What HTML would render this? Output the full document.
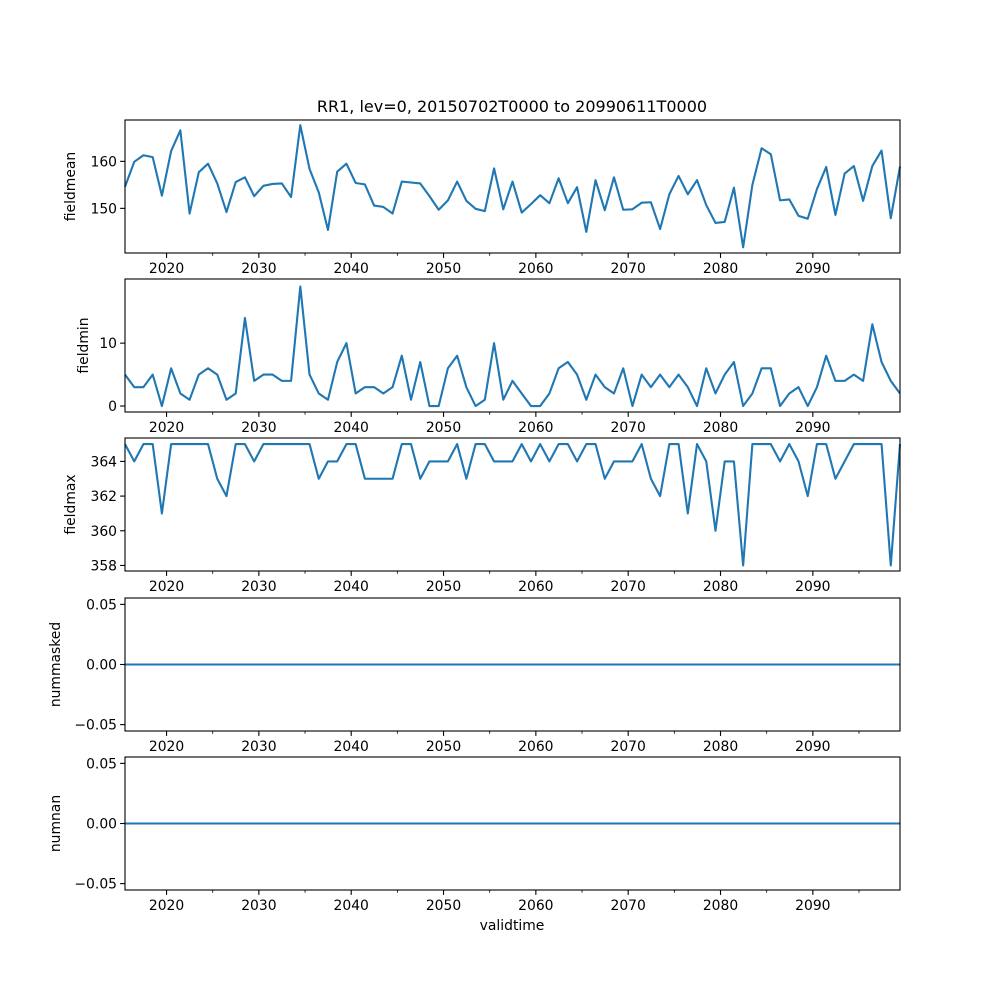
<!DOCTYPE html>
<html><head><meta charset="utf-8"><style>
html,body{margin:0;padding:0;background:#fff}
svg{display:block;font-family:"DejaVu Sans","Liberation Sans",sans-serif}
</style></head><body>
<svg id="fig" width="1000" height="1000" viewBox="0 0 1000 1000" xmlns="http://www.w3.org/2000/svg">
<text x="512" y="112" text-anchor="middle" font-size="16">RR1, lev=0, 20150702T0000 to 20990611T0000</text>
<text x="512" y="930" text-anchor="middle" font-size="13.9">validtime</text>
</svg>
<script>
const fieldmean=[154.6,159.9,161.3,160.9,152.7,162.2,166.6,148.9,157.7,159.5,155.3,149.2,155.6,156.6,152.6,154.8,155.2,155.3,152.4,167.7,158.4,153.4,145.4,157.8,159.5,155.4,155.1,150.6,150.3,148.9,155.7,155.5,155.3,152.6,149.7,151.7,155.7,151.6,149.9,149.4,158.5,149.8,155.7,149.1,150.9,152.8,151.1,156.4,151.1,154.5,145.0,156.0,149.6,156.6,149.7,149.8,151.2,151.3,145.6,153.0,156.9,153.0,156.0,150.7,146.9,147.1,154.4,141.7,155.0,162.8,161.5,151.7,151.9,148.4,147.8,154.1,158.8,148.6,157.4,159.0,151.6,159.0,162.3,147.9,158.9];
const fieldmin=[5,3,3,5,0,6,2,1,5,6,5,1,2,14,4,5,5,4,4,19,5,2,1,7,10,2,3,3,2,3,8,1,7,0,0,6,8,3,0,1,10,1,4,2,0,0,2,6,7,5,1,5,3,2,6,0,5,3,5,3,5,3,0,6,2,5,7,0,2,6,6,0,2,3,0,3,8,4,4,5,4,13,7,4,2];
const fieldmax=[365,364,365,365,361,365,365,365,365,365,363,362,365,365,364,365,365,365,365,365,365,363,364,364,365,365,363,363,363,363,365,365,363,364,364,364,365,363,365,365,364,364,364,365,364,365,364,365,365,364,365,365,363,364,364,364,365,363,362,365,365,361,365,364,360,364,364,358,365,365,365,364,365,364,362,365,365,363,364,365,365,365,365,358,365];
const nummasked=fieldmax.map(()=>0);
const numnan=fieldmax.map(()=>0);
const xTickLabels=[2020,2030,2040,2050,2060,2070,2080,2090];
const xMinorTicks=[2025,2035,2045,2055,2065,2075,2085,2095];
const startYear=2015.5, endYear=2099.44;

const panels=[
 {name:'fieldmean',data:fieldmean,top:120,bot:253,ymin:140.5,ymax:168.8,ticks:[150,160],fmt:v=>String(v),lx:75},
 {name:'fieldmin',data:fieldmin,top:279,bot:412,ymin:-0.95,ymax:20.2,ticks:[0,10],fmt:v=>String(v),lx:88},
 {name:'fieldmax',data:fieldmax,top:438,bot:571,ymin:357.68,ymax:365.35,ticks:[358,360,362,364],fmt:v=>String(v),lx:75},
 {name:'nummasked',data:nummasked,top:598,bot:731,ymin:-0.0553,ymax:0.0553,ticks:[-0.05,0,0.05],fmt:v=>v.toFixed(2).replace('-','\u2212'),lx:60},
 {name:'numnan',data:numnan,top:757,bot:890,ymin:-0.0553,ymax:0.0553,ticks:[-0.05,0,0.05],fmt:v=>v.toFixed(2).replace('-','\u2212'),lx:60}
];
const L=125,R=900;
const svg=document.getElementById('fig');
const NS='http://www.w3.org/2000/svg';
function mk(tag,attrs){const e=document.createElementNS(NS,tag);for(const k in attrs)e.setAttribute(k,attrs[k]);svg.appendChild(e);return e;}
const yearX=y=>L+(y-startYear)/(endYear-startYear)*(R-L);
panels.forEach(p=>{
  const ys=v=>p.bot-(v-p.ymin)/(p.ymax-p.ymin)*(p.bot-p.top);
  const n=p.data.length;
  const xi=i=>L+i*(R-L)/(n-1);
  const pts=p.data.map((v,i)=>xi(i).toFixed(2)+','+ys(v).toFixed(2)).join(' ');
  const line=mk('polyline',{points:pts,fill:'none',stroke:'#1f77b4','stroke-width':2.1,'stroke-linejoin':'round'});
  
  
  const frame=mk('rect',{x:L,y:p.top,width:R-L,height:p.bot-p.top,fill:'none',stroke:'#000','stroke-width':1.1});
  
  
  p.ticks.forEach(t=>{
    const y=ys(t);
    const tk=mk('line',{x1:L-4.9,x2:L,y1:y,y2:y,stroke:'#000','stroke-width':1.1});
    
    
    const tl=mk('text',{x:L-8,y:y+5,'text-anchor':'end','font-size':13.9});
    tl.textContent=p.fmt(t);
    
    
  });
  xTickLabels.forEach(yr=>{
    const x=yearX(yr);
    const tk=mk('line',{x1:x,x2:x,y1:p.bot,y2:p.bot+4.9,stroke:'#000','stroke-width':1.1});
    
    
    const tl=mk('text',{x:x,y:p.bot+20,'text-anchor':'middle','font-size':13.9});
    tl.textContent=String(yr);
    
    
  });
  xMinorTicks.forEach(yr=>{
    const x=yearX(yr);
    const tk=mk('line',{x1:x,x2:x,y1:p.bot,y2:p.bot+2.8,stroke:'#000','stroke-width':0.8});
    
    
  });
  const cy=(p.top+p.bot)/2;
  const lab=mk('text',{x:p.lx,y:cy,'text-anchor':'middle','font-size':13.9,transform:'rotate(-90 '+p.lx+' '+cy+')'});
  lab.textContent=p.name;
  
  
});
</script>
</body></html>
